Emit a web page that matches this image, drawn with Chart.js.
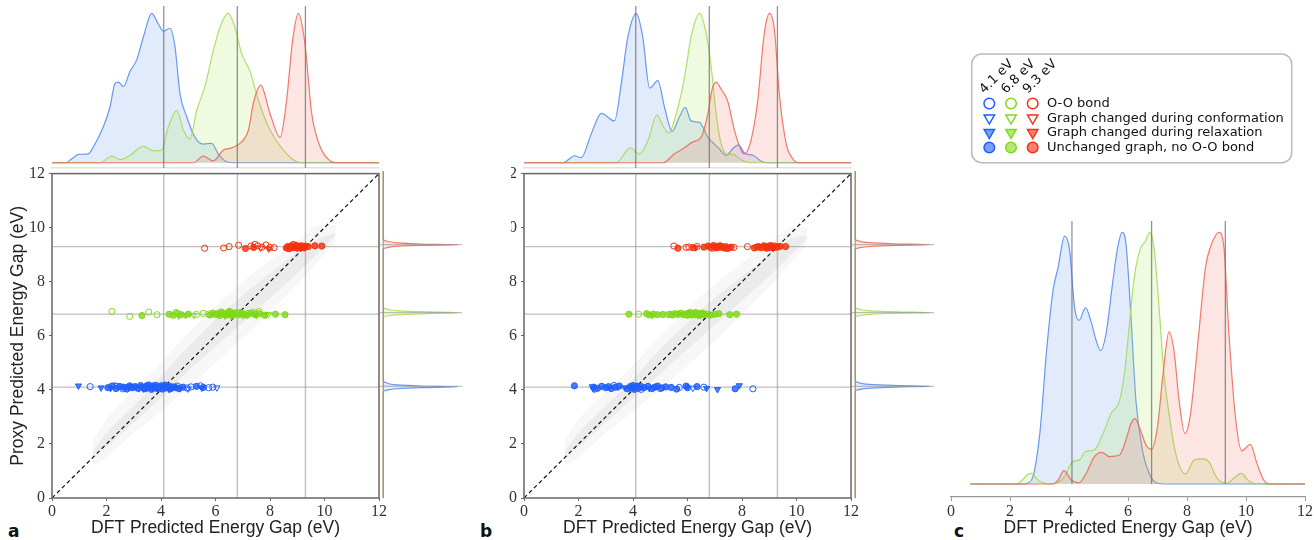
<!DOCTYPE html>
<html lang="en">
<head>
<meta charset="UTF-8">
<title>Proxy vs DFT energy gap</title>
<script src="https://cdn.jsdelivr.net/npm/chart.js"></script>
<style>
  body { margin: 0; width: 1314px; height: 540px; position: relative; overflow: hidden; background: #fff; }
  canvas { position: absolute; }
  .lbl { position: absolute; font: bold 17px "DejaVu Sans"; line-height: 17px; color: #111; }
  .cover { position: absolute; background: #fff; z-index: 5; }
</style>
</head>
<body>
<div class="lbl" style="left:8px;top:523px">a</div>
<div class="lbl" style="left:480px;top:523px">b</div>
<div class="lbl" style="left:954px;top:523px">c</div>
<div class="cover" style="left:495px;top:160px;width:15.5px;height:75px"></div>
<script>
// reference energy levels (eV)
const levels = [4.1, 6.8, 9.3];
const levelLabels = ['4.1 eV', '6.8 eV', '9.3 eV'];
const legendRows = ['O-O bond', 'Graph changed during conformation', 'Graph changed during relaxation', 'Unchanged graph, no O-O bond'];

// ---- panel a, top marginal KDE  [x, density]
const aTopBlue = [[0,0],[0.5,0],[0.75,0.03],[0.97,0.056],[1.33,0.06],[1.52,0.107],[1.88,0.24],[2.13,0.375],[2.31,0.53],[2.43,0.54],[2.62,0.51],[2.86,0.61],[3.11,0.69],[3.35,0.84],[3.66,1.0],[3.9,0.93],[4.09,0.88],[4.33,0.9],[4.51,0.78],[4.7,0.46],[4.94,0.31],[5.25,0.17],[5.55,0.125],[5.86,0.13],[6.1,0.06],[6.41,0.007],[6.78,0],[12,0]];
const aTopGreen = [[0,0],[1.76,0],[2.19,0.045],[2.5,0.022],[2.86,0.05],[3.35,0.11],[3.72,0.08],[4.02,0.085],[4.27,0.24],[4.58,0.35],[4.82,0.22],[5.06,0.16],[5.31,0.35],[5.61,0.51],[5.92,0.75],[6.17,0.91],[6.47,1.0],[6.72,0.9],[6.96,0.73],[7.27,0.61],[7.57,0.42],[8.0,0.22],[8.49,0.085],[8.98,0.007],[9.22,0],[12,0]];
const aTopRed = [[0,0],[5.19,0],[5.55,0.045],[5.92,0.013],[6.29,0.085],[6.59,0.1],[6.96,0.14],[7.21,0.22],[7.39,0.4],[7.66,0.52],[8.0,0.33],[8.37,0.17],[8.61,0.42],[8.83,0.82],[9.04,1.0],[9.28,0.8],[9.53,0.33],[9.84,0.107],[10.2,0.013],[10.45,0],[12,0]];

// ---- panel b, top marginal KDE
const bTopBlue = [[0,0],[1.43,0],[1.86,0.047],[2.1,0.034],[2.47,0.195],[2.84,0.33],[3.32,0.28],[3.57,0.53],[3.81,0.84],[4.12,1.0],[4.36,0.84],[4.61,0.5],[4.91,0.55],[5.16,0.37],[5.44,0.21],[5.71,0.31],[5.92,0.37],[6.13,0.28],[6.44,0.27],[6.75,0.17],[7.11,0.105],[7.42,0.05],[7.66,0.094],[7.87,0.12],[8.09,0.065],[8.4,0.05],[8.76,0.005],[9.0,0],[12,0]];
const bTopGreen = [[0,0],[3.39,0],[3.9,0.1],[4.24,0.06],[4.55,0.15],[4.88,0.32],[5.12,0.24],[5.32,0.2],[5.59,0.33],[5.89,0.57],[6.13,0.84],[6.44,1.0],[6.68,0.87],[6.87,0.64],[7.05,0.33],[7.23,0.13],[7.48,0.056],[7.66,0.056],[7.97,0.02],[8.27,0],[12,0]];
const bTopRed = [[0,0],[5.1,0],[5.52,0.06],[5.83,0.094],[6.2,0.14],[6.5,0.17],[6.75,0.33],[6.9,0.49],[7.05,0.54],[7.24,0.49],[7.48,0.41],[7.72,0.22],[7.97,0.083],[8.09,0.06],[8.33,0.15],[8.58,0.42],[8.82,0.87],[9.01,1.0],[9.19,0.89],[9.37,0.46],[9.62,0.13],[9.86,0.027],[10.1,0],[12,0]];

// ---- right marginal KDE  [eV, density]
const aRightBlue = [[0,0],[3.9,0],[3.96,0.05],[4.01,0.18],[4.05,0.5],[4.08,1.0],[4.11,0.5],[4.15,0.18],[4.22,0.05],[4.29,0],[12,0]];
const aRightGreen = [[0,0],[6.62,0],[6.68,0.05],[6.73,0.2],[6.77,0.6],[6.8,1.0],[6.83,0.6],[6.87,0.2],[6.93,0.05],[7.0,0],[12,0]];
const aRightRed = [[0,0],[9.13,0],[9.19,0.05],[9.24,0.2],[9.27,0.5],[9.29,1.0],[9.32,0.5],[9.36,0.2],[9.42,0.05],[9.5,0],[12,0]];
const bRightBlue = [[0,0],[3.92,0],[3.98,0.05],[4.03,0.2],[4.07,0.55],[4.1,1.0],[4.13,0.5],[4.17,0.18],[4.23,0.05],[4.3,0],[12,0]];
const bRightGreen = [[0,0],[6.63,0],[6.69,0.05],[6.74,0.2],[6.78,0.55],[6.8,1.0],[6.83,0.55],[6.87,0.2],[6.93,0.05],[6.99,0],[12,0]];
const bRightRed = [[0,0],[9.12,0],[9.18,0.05],[9.23,0.2],[9.27,0.55],[9.3,1.0],[9.33,0.5],[9.37,0.18],[9.43,0.05],[9.5,0],[12,0]];

// ---- panel c KDE
const cBlue = [[0.65,0],[2.45,0],[2.73,0.016],[3.01,0.2],[3.24,0.53],[3.46,0.77],[3.63,0.86],[3.85,0.985],[4.02,0.93],[4.19,0.7],[4.34,0.65],[4.56,0.7],[4.75,0.645],[4.92,0.57],[5.07,0.53],[5.26,0.6],[5.48,0.8],[5.65,0.94],[5.8,1.0],[5.93,0.956],[6.1,0.665],[6.27,0.33],[6.49,0.135],[6.72,0.042],[7.0,0.003],[7.28,0],[12,0]];
const cGreen = [[0.65,0],[2.22,0],[2.7,0.042],[3.01,0.01],[3.35,0],[3.8,0.022],[4.13,0.089],[4.34,0.095],[4.58,0.13],[4.86,0.135],[5.15,0.2],[5.43,0.28],[5.71,0.33],[5.88,0.44],[6.04,0.625],[6.21,0.82],[6.42,0.936],[6.58,0.963],[6.74,1.0],[6.89,0.93],[7.06,0.69],[7.22,0.44],[7.39,0.28],[7.62,0.12],[7.95,0.04],[8.24,0.095],[8.52,0.1],[8.74,0.089],[9.02,0.022],[9.36,0.003],[9.58,0.022],[9.84,0.042],[10.09,0.013],[10.37,0],[12,0]];
const cRed = [[0.65,0],[3.46,0],[3.63,0.016],[3.83,0.053],[4.08,0.016],[4.34,0.005],[4.58,0.042],[4.86,0.109],[5.12,0.126],[5.37,0.109],[5.71,0.115],[5.93,0.175],[6.1,0.24],[6.24,0.26],[6.38,0.228],[6.61,0.155],[6.8,0.138],[7.0,0.228],[7.19,0.44],[7.39,0.605],[7.56,0.53],[7.73,0.334],[7.93,0.2],[8.12,0.28],[8.4,0.6],[8.63,0.864],[8.8,0.943],[9.08,1.0],[9.25,0.943],[9.42,0.6],[9.64,0.268],[9.86,0.132],[10.15,0.158],[10.37,0.082],[10.6,0.016],[10.82,0],[12,0]];

// ---- grey cloud of all molecules (band edges)
const cloudX = [1.5, 2, 3, 4, 5, 6, 7, 8, 9, 9.8, 10.4];
const aInnerLo = [1.6, 1.9, 2.8, 3.7, 4.7, 5.6, 6.5, 7.4, 8.3, 9.1, 9.7];
const aInnerHi = [1.7, 2.4, 3.4, 4.5, 5.6, 6.6, 7.5, 8.3, 9.1, 9.6, 9.8];
const aOuterLo = [1.2, 1.5, 2.4, 3.2, 4.1, 5.0, 5.9, 6.9, 7.9, 8.8, 9.5];
const aOuterHi = [2.1, 2.9, 4.0, 5.0, 6.1, 7.1, 8.0, 8.8, 9.5, 10.1, 10.1];
const bInnerLo = [1.6, 1.9, 2.8, 3.7, 4.6, 5.5, 6.4, 7.3, 8.2, 9.0, 9.6];
const bInnerHi = [1.7, 2.4, 3.4, 4.4, 5.5, 6.5, 7.4, 8.2, 9.0, 9.6, 9.7];
const bOuterLo = [1.2, 1.5, 2.4, 3.2, 4.0, 4.9, 5.8, 6.8, 7.8, 8.7, 9.4];
const bOuterHi = [2.1, 2.9, 3.9, 4.9, 6.0, 7.0, 7.9, 8.7, 9.4, 10.0, 10.0];

// ---- scatter points [DFT, proxy]
const aBlueUnch = [[2.05,4.08],[2.2,4.14],[2.35,4.05],[2.5,4.12],[2.62,4.1],[2.75,4.03],[2.85,4.15],[2.95,4.08],[3.05,4.12],[3.15,4.06],[3.25,4.16],[3.3,4.1],[3.4,4.04],[3.45,4.13],[3.5,4.07],[3.55,4.18],[3.6,4.1],[3.65,4.02],[3.7,4.14],[3.75,4.09],[3.8,4.17],[3.85,4.05],[3.9,4.11],[3.95,4.08],[4.0,4.15],[4.05,4.03],[4.1,4.12],[4.15,4.18],[4.2,4.07],[4.25,4.1],[4.3,4.14],[4.35,4.04],[4.45,4.11],[4.55,4.08],[4.65,4.05],[4.8,4.1],[5.3,4.13],[5.55,4.09]];
const aBlueOO = [[1.4,4.12],[2.3,4.15],[2.6,4.04],[2.9,4.1],[3.5,4.16],[3.9,4.06],[4.6,4.14],[4.95,4.07],[5.1,4.11],[5.45,4.15],[5.75,4.08],[5.9,4.1]];
const aBlueConf = [[2.4,4.16],[2.7,4.1],[3.0,4.14],[3.2,4.05],[4.4,4.1],[5.0,4.04],[6.05,4.08]];
const aBlueRelax = [[0.97,4.15],[1.8,4.08],[2.15,4.06],[2.8,4.12],[3.35,4.04],[3.7,4.06],[4.3,4.02],[4.7,4.05],[5.5,4.07]];
const aGreenUnch = [[3.3,6.75],[4.3,6.8],[4.45,6.76],[4.6,6.83],[4.75,6.78],[5.0,6.8],[5.8,6.77],[5.9,6.84],[6.0,6.79],[6.1,6.82],[6.15,6.75],[6.25,6.86],[6.3,6.8],[6.4,6.77],[6.45,6.84],[6.5,6.79],[6.55,6.88],[6.6,6.76],[6.65,6.82],[6.7,6.8],[6.75,6.85],[6.85,6.78],[6.95,6.83],[7.05,6.8],[7.15,6.76],[7.3,6.84],[7.45,6.79],[7.6,6.82],[7.8,6.76],[8.2,6.8],[8.55,6.78]];
const aGreenOO = [[2.2,6.9],[2.85,6.72],[3.55,6.88],[3.85,6.78],[4.55,6.86],[5.3,6.79],[5.55,6.83],[5.75,6.8],[6.2,6.88],[6.5,6.9],[6.9,6.86],[7.2,6.83],[7.4,6.86],[7.6,6.9]];
const aGreenConf = [[5.2,6.76],[6.35,6.74],[7.0,6.75],[7.95,6.8]];
const aGreenRelax = [[4.65,6.74],[4.9,6.76],[6.6,6.73],[7.5,6.75],[7.85,6.77]];
const aRedUnch = [[7.1,9.23],[7.4,9.27],[8.6,9.25],[8.65,9.3],[8.7,9.22],[8.75,9.28],[8.8,9.33],[8.85,9.26],[8.9,9.3],[8.95,9.35],[9.0,9.24],[9.05,9.31],[9.1,9.27],[9.15,9.33],[9.2,9.29],[9.25,9.25],[9.3,9.32],[9.4,9.3],[9.65,9.33],[9.9,9.32]];
const aRedOO = [[5.6,9.24],[6.3,9.25],[6.5,9.3],[6.85,9.35],[7.3,9.32],[7.45,9.38],[7.55,9.33],[7.7,9.28],[7.85,9.36],[8.0,9.27],[8.15,9.26],[8.85,9.38]];
const aRedConf = [[7.65,9.25]];
const aRedRelax = [[7.95,9.22]];

const bBlueUnch = [[1.85,4.15],[2.55,4.1],[2.7,4.06],[2.85,4.13],[3.0,4.08],[3.1,4.12],[3.2,4.05],[3.35,4.1],[3.5,4.14],[3.8,4.04],[3.9,4.12],[3.95,4.07],[4.0,4.16],[4.05,4.02],[4.1,4.1],[4.15,4.14],[4.2,4.06],[4.3,4.12],[4.4,4.08],[4.55,4.13],[4.7,4.05],[4.8,4.1],[4.9,4.14],[5.05,4.07],[5.2,4.11],[5.4,4.09],[5.6,4.03],[5.95,4.14],[6.0,4.08],[6.35,4.12],[7.75,4.04]];
const bBlueOO = [[2.6,4.03],[3.3,4.16],[4.3,4.02],[5.0,4.05],[5.7,4.09],[6.6,4.1],[8.4,4.04]];
const bBlueConf = [[2.5,4.12],[3.45,4.1],[6.2,4.07]];
const bBlueRelax = [[2.55,4.04],[3.7,4.08],[4.6,4.06],[6.7,4.06],[7.1,4.02],[7.9,4.16]];
const bGreenUnch = [[3.85,6.8],[4.5,6.82],[4.6,6.77],[4.75,6.8],[4.9,6.78],[5.1,6.79],[5.35,6.8],[5.45,6.77],[5.55,6.82],[5.65,6.79],[5.75,6.84],[5.85,6.78],[5.95,6.81],[6.0,6.76],[6.05,6.84],[6.1,6.8],[6.15,6.77],[6.2,6.83],[6.25,6.79],[6.3,6.86],[6.35,6.78],[6.4,6.82],[6.45,6.76],[6.5,6.8],[6.55,6.84],[6.6,6.78],[6.7,6.8],[6.85,6.77],[7.0,6.8],[7.15,6.82],[7.55,6.78],[7.8,6.8]];
const bGreenOO = [[4.2,6.8],[5.3,6.78],[6.1,6.86]];
const bGreenConf = [[6.8,6.76]];
const bGreenRelax = [[4.7,6.76],[6.4,6.75]];
const bRedUnch = [[5.65,9.24],[6.2,9.26],[6.6,9.28],[6.75,9.32],[6.85,9.27],[6.95,9.34],[7.0,9.29],[7.05,9.25],[7.1,9.31],[7.15,9.27],[7.2,9.33],[7.3,9.26],[7.4,9.3],[7.5,9.24],[7.6,9.28],[8.45,9.25],[8.6,9.3],[8.7,9.26],[8.8,9.33],[8.85,9.28],[8.9,9.24],[8.95,9.31],[9.0,9.27],[9.05,9.34],[9.1,9.29],[9.15,9.25],[9.2,9.32],[9.3,9.28],[9.4,9.31],[9.6,9.3]];
const bRedOO = [[5.5,9.32],[5.95,9.27],[6.05,9.28],[6.35,9.3],[6.9,9.24],[7.25,9.3],[7.45,9.23],[7.7,9.27],[8.2,9.3],[8.55,9.28]];
const bRedConf = [[7.35,9.25]];
const bRedRelax = [[6.3,9.26]];

// ---- styling
const markColors = ['#1f5fff', '#80d819', '#f5310f'];
const kdeLine = ['rgba(80,135,240,0.85)', 'rgba(160,220,80,0.85)', 'rgba(240,100,80,0.85)'];
const kdeFill = ['rgba(95,145,240,0.18)', 'rgba(165,225,85,0.18)', 'rgba(240,110,95,0.18)'];
const tickFont = { family: 'Liberation Serif', size: 16 };
const titleFont = { family: 'Liberation Sans', size: 17.5 };

Chart.defaults.animation = false;
Chart.defaults.events = [];
Chart.defaults.plugins.legend.display = false;
Chart.defaults.plugins.tooltip.enabled = false;

function addCanvas(left, top, w, h) {
  const c = document.createElement('canvas');
  c.width = w; c.height = h;
  c.style.left = left + 'px'; c.style.top = top + 'px';
  document.body.appendChild(c);
  return c;
}

function seg(x1, y1, x2, y2, color, width, order, dash) {
  return { data: [{x: x1, y: y1}, {x: x2, y: y2}], borderColor: color, borderWidth: width,
           borderDash: dash || [], pointRadius: 0, fill: false, order };
}

function kde(points, i, horiz, order) {
  return { data: points.map(([a, b]) => horiz ? {x: b, y: a} : {x: a, y: b}),
           borderColor: kdeLine[i], backgroundColor: kdeFill[i], borderWidth: 1.2,
           pointRadius: 0, fill: 'origin', cubicInterpolationMode: 'monotone', order };
}

// kind: 0 O-O bond, 1 conformation, 2 relaxation, 3 unchanged
function marks(points, i, kind) {
  const tri = kind === 1 || kind === 2;
  const filled = kind >= 2;
  return { data: points.map(([x, y]) => ({x, y})), showLine: false,
           pointStyle: tri ? 'triangle' : 'circle', pointRotation: tri ? 180 : 0,
           pointRadius: tri ? 3.6 : 3.1, pointBorderWidth: 1, pointBorderColor: markColors[i],
           pointBackgroundColor: filled ? markColors[i] + 'cc' : 'rgba(0,0,0,0)', order: 1 };
}

function band(lo, hi, color, order) {
  return [
    { data: cloudX.map((x, k) => ({x, y: hi[k]})), borderWidth: 0, pointRadius: 0,
      backgroundColor: color, fill: '+1', cubicInterpolationMode: 'monotone', order },
    { data: cloudX.map((x, k) => ({x, y: lo[k]})), borderWidth: 0, pointRadius: 0,
      fill: false, cubicInterpolationMode: 'monotone', order }
  ];
}

const framePlugin = {
  id: 'frame',
  afterDatasetsDraw(chart) {
    const {ctx, chartArea: a} = chart;
    ctx.save();
    ctx.strokeStyle = '#666';
    ctx.lineWidth = 1.5;
    ctx.strokeRect(a.left, a.top, a.right - a.left, a.bottom - a.top);
    ctx.restore();
  }
};

function topMargin(canvas, curves) {
  const ds = levels.map(v => seg(v, -0.035, v, 1.049, 'rgba(110,110,110,0.75)', 1.3, 0));
  curves.forEach((c, i) => ds.push(kde(c, i, false, 3 - i)));
  new Chart(canvas, {
    type: 'line', data: { datasets: ds },
    options: {
      responsive: false,
      layout: { padding: { left: 52, right: 11, top: 6, bottom: 2 } },
      scales: {
        x: { type: 'linear', min: 0, max: 12, ticks: { display: false }, grid: { display: false },
             border: { display: true, color: '#e3e3e3', width: 1.5 }, afterFit: s => { s.height = 0; } },
        y: { type: 'linear', min: -0.035, max: 1.049, display: false }
      }
    }
  });
}

function rightMargin(canvas, curves) {
  const ds = levels.map(v => seg(-0.044, v, 1.05, v, 'rgba(150,150,150,0.6)', 1.3, 0));
  curves.forEach((c, i) => ds.push(kde(c, i, true, 3 - i)));
  new Chart(canvas, {
    type: 'line', data: { datasets: ds },
    options: {
      responsive: false, indexAxis: 'y',
      layout: { padding: { left: 10, right: 8, top: 11, bottom: 7 } },
      scales: {
        x: { type: 'linear', min: -0.044, max: 1.05, display: false },
        y: { type: 'linear', min: 0, max: 12, display: false }
      }
    }
  });
}

function mainPlot(canvas, groups, bands, showYTitle) {
  const ds = [];
  groups.forEach((g, i) => g.forEach((pts, kind) => ds.push(marks(pts, i, kind))));
  ds.push(seg(0, 0, 12, 12, '#111', 1.2, 2, [4, 3]));
  levels.forEach(v => {
    ds.push(seg(v, 0, v, 12, 'rgba(140,140,140,0.55)', 1.4, 3));
    ds.push(seg(0, v, 12, v, 'rgba(140,140,140,0.55)', 1.4, 3));
  });
  ds.push(...band(bands[0], bands[1], '#ebebeb', 4));
  ds.push(...band(bands[2], bands[3], '#f7f7f7', 5));
  const axis = (title, isX) => ({
    type: 'linear', min: 0, max: 12,
    ticks: { stepSize: 2, color: '#333', font: tickFont, padding: isX ? 1 : 4, maxRotation: 0 },
    grid: { drawOnChartArea: false, tickLength: 3, color: '#666' },
    border: { display: false },
    title: { display: isX || showYTitle, text: title, color: '#222', font: titleFont,
             padding: isX ? { top: 0, bottom: 1 } : { top: 8, bottom: 0 } },
    afterFit: s => { if (isX) s.height = 42; else s.width = 52; }
  });
  new Chart(canvas, {
    type: 'line', data: { datasets: ds },
    options: {
      responsive: false,
      layout: { padding: { left: 0, right: 11, top: 11, bottom: 0 } },
      scales: { x: axis('DFT Predicted Energy Gap (eV)', true), y: axis('Proxy Predicted Energy Gap (eV)', false) }
    },
    plugins: [framePlugin]
  });
}

// legend of panel c drawn on its canvas
function drawMarker(ctx, x, y, kind, color) {
  ctx.save();
  ctx.lineWidth = 1.5;
  ctx.strokeStyle = color;
  ctx.fillStyle = kind >= 2 ? color + '99' : 'rgba(0,0,0,0)';
  ctx.beginPath();
  if (kind === 1 || kind === 2) {
    const r = 6;
    ctx.moveTo(x, y + r);
    ctx.lineTo(x - r * 0.866, y - r / 2);
    ctx.lineTo(x + r * 0.866, y - r / 2);
    ctx.closePath();
  } else {
    ctx.arc(x, y, 5.3, 0, Math.PI * 2);
  }
  ctx.fill();
  ctx.stroke();
  ctx.restore();
}

const legendPlugin = {
  id: 'gridLegend',
  afterDraw(chart) {
    const ctx = chart.ctx;
    const ox = 930;
    const cols = [989.3, 1011, 1032.7].map(v => v - ox);
    const rows = [103.5, 118, 132.5, 147.5];
    ctx.save();
    ctx.strokeStyle = '#bbb';
    ctx.lineWidth = 1.5;
    ctx.beginPath();
    ctx.roundRect(971.7 - ox, 54, 320, 108.7, 10);
    ctx.stroke();
    ctx.fillStyle = '#111';
    ctx.font = '13px "DejaVu Sans"';
    levelLabels.forEach((t, c) => {
      ctx.save();
      ctx.translate(cols[c] - 5, 94);
      ctx.rotate(-Math.PI / 4);
      ctx.textAlign = 'left';
      ctx.textBaseline = 'alphabetic';
      ctx.fillText(t, 0, 0);
      ctx.restore();
    });
    legendRows.forEach((t, r) => {
      cols.forEach((cx, c) => drawMarker(ctx, cx, rows[r], r, markColors[c]));
      ctx.textAlign = 'left';
      ctx.textBaseline = 'middle';
      ctx.fillText(t, 1047 - ox, rows[r] + 0.5);
    });
    ctx.restore();
  }
};

function panelC(canvas) {
  const ds = levels.map(v => seg(v, 0, v, 1.045, 'rgba(110,110,110,0.75)', 1.3, 0));
  [cBlue, cGreen, cRed].forEach((c, i) => ds.push(kde(c, i, false, 3 - i)));
  new Chart(canvas, {
    type: 'line', data: { datasets: ds },
    options: {
      responsive: false,
      layout: { padding: { left: 21, right: 7, top: 221, bottom: 0 } },
      scales: {
        x: { type: 'linear', min: 0, max: 12,
             ticks: { stepSize: 2, color: '#333', font: tickFont, padding: 1, maxRotation: 0 },
             grid: { drawOnChartArea: false, tickLength: 4, color: '#999' },
             border: { display: true, color: '#999', width: 1.3 },
             title: { display: true, text: 'DFT Predicted Energy Gap (eV)', color: '#222', font: titleFont,
                      padding: { top: 0, bottom: 1.5 } },
             afterFit: s => { s.height = 43; } },
        y: { type: 'linear', min: -0.0516, max: 1.045, display: false }
      }
    },
    plugins: [legendPlugin]
  });
}

topMargin(addCanvas(0, 0, 390, 170), [aTopBlue, aTopGreen, aTopRed]);
topMargin(addCanvas(472, 0, 390, 170), [bTopBlue, bTopGreen, bTopRed]);
mainPlot(addCanvas(0, 160, 390, 380),
  [[aBlueOO, aBlueConf, aBlueRelax, aBlueUnch], [aGreenOO, aGreenConf, aGreenRelax, aGreenUnch], [aRedOO, aRedConf, aRedRelax, aRedUnch]],
  [aInnerLo, aInnerHi, aOuterLo, aOuterHi], true);
mainPlot(addCanvas(472, 160, 390, 380),
  [[bBlueOO, bBlueConf, bBlueRelax, bBlueUnch], [bGreenOO, bGreenConf, bGreenRelax, bGreenUnch], [bRedOO, bRedConf, bRedRelax, bRedUnch]],
  [bInnerLo, bInnerHi, bOuterLo, bOuterHi], false);
rightMargin(addCanvas(370, 160, 100, 345), [aRightBlue, aRightGreen, aRightRed]);
rightMargin(addCanvas(842, 160, 100, 345), [bRightBlue, bRightGreen, bRightRed]);
panelC(addCanvas(930, 0, 384, 540));
</script>
</body>
</html>
